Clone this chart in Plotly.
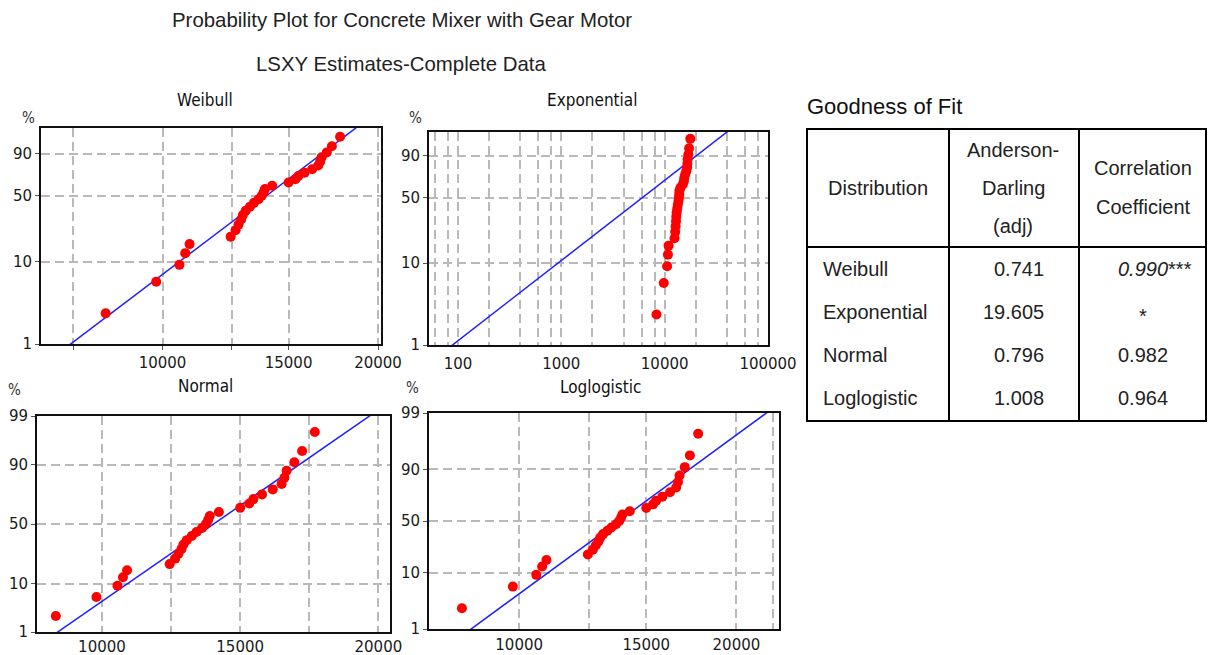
import math
from statistics import NormalDist
import numpy as np
import plotly.graph_objects as go

W, H = 1208, 655

# ---------------- data ----------------
failure_times = [8330, 9800, 10560, 10760, 10910, 12450, 12650, 12770, 12880, 12950,
                 13070, 13250, 13420, 13620, 13760, 13840, 13900, 14230, 15000, 15330,
                 15480, 15790, 16180, 16500, 16600, 16680, 16960, 17240, 17700]

weibull_beta, weibull_eta = 6.725, 14750.0
expo_theta = 8800.0
normal_mu, normal_sigma = 14040.0, 2424.0
loglog_mu, loglog_sigma = 9.528, 0.1025

pct_ticks_4 = [1, 10, 50, 90]
pct_ticks_5 = [1, 10, 50, 90, 99]

table_title = "Goodness of Fit"
dist_names = ["Weibull", "Exponential", "Normal", "Loglogistic"]
ad_values = ["0.741", "19.605", "0.796", "1.008"]
cc_values = ["<i>0.990</i>***", "*", "0.982", "0.964"]

main_title = "Probability Plot for Concrete Mixer with Gear Motor"
sub_title = "LSXY Estimates-Complete Data"

# ---------------- helpers ----------------
ND = NormalDist()


def t_weib(p):
    return math.log(-math.log(1 - p))


def t_norm(p):
    return ND.inv_cdf(p)


def t_logit(p):
    return math.log(p / (1 - p))


def px(x):
    return x / W


def py(y):
    return 1 - y / H


n = len(failure_times)
median_ranks = [(i - 0.3) / (n + 0.4) for i in range(1, n + 1)]
line_p = np.linspace(0.002, 0.9995, 200)

fig = go.Figure()

TICKFONT = dict(family="DejaVu Sans", size=15, color="#1a1a1a")
TITLEFONT = dict(family="DejaVu Sans Condensed, DejaVu Sans", size=17, color="#111")
GRID = dict(showgrid=True, gridcolor="#b9b9b9", gridwidth=1.5, griddash="9px,5px",
            zeroline=False, showline=True, mirror=True, linecolor="#111", linewidth=2,
            ticks="outside", ticklen=4, tickwidth=1, tickcolor="#555", tickfont=TICKFONT,
            fixedrange=True, automargin=False)


def dom(x0, x1, y0, y1):
    return [px(x0), px(x1)], [py(y1), py(y0)]


panels = []

# Weibull
wb_line_x = [weibull_eta * (-math.log(1 - p)) ** (1 / weibull_beta) for p in line_p]
panels.append(dict(
    name="Weibull", box=(41, 381, 128, 344), tr=t_weib, ytop=1.567, pticks=pct_ticks_4,
    xtype="log", xr=[math.log10(6766), math.log10(20190)], xticklen=4, xtickcolor="#555",
    xvals=[7500, 10000, 12500, 15000, 20000], xtext=["", "10000", "", "15000", "20000"],
    lx=wb_line_x, title_xy=(205, 100), pct_xy=(28, 118)))

# Exponential
ex_vals, ex_text = [], []
for d in range(1, 6):
    for k in (1, 2, 4, 6, 8):
        v = k * 10 ** d
        if 52 <= v <= 100000:
            ex_vals.append(v)
            ex_text.append(str(v) if k == 1 and d >= 2 else "")
ex_line_x = [-expo_theta * math.log(1 - p) for p in line_p]
panels.append(dict(
    name="Exponential", box=(429, 768, 132, 345), tr=t_weib, ytop=1.515, pticks=pct_ticks_4,
    xtype="log", xr=[1.7194, 5.0], xvals=ex_vals, xtext=ex_text, xticklen=4,
    xtickcolor="rgba(0,0,0,0)",
    lx=ex_line_x, title_xy=(592, 100), pct_xy=(415, 118)))

# Normal
no_line_x = [normal_mu + normal_sigma * ND.inv_cdf(p) for p in line_p]
panels.append(dict(
    name="Normal", box=(37, 390, 416, 632), tr=t_norm, ytop=None, pticks=pct_ticks_5,
    xtype="linear", xr=[7650, 20420], xticklen=0, xtickcolor="#555",
    xvals=[10000, 12500, 15000, 17500, 20000], xtext=["10000", "", "15000", "", "20000"],
    lx=no_line_x, title_xy=(205, 386), pct_xy=(15, 390)))

# Loglogistic
ll_line_x = [math.exp(loglog_mu + loglog_sigma * t_logit(p)) for p in line_p]
panels.append(dict(
    name="Loglogistic", box=(429, 779, 413, 629), tr=t_logit, ytop=None, pticks=pct_ticks_5,
    xtype="log", xr=[math.log10(7500), 4.36], xticklen=1, xtickcolor="rgba(0,0,0,0)",
    xvals=[10000, 12500, 15000, 20000, 22500], xtext=["10000", "", "15000", "20000", ""],
    lx=ll_line_x, title_xy=(600, 387), pct_xy=(412, 388)))

annotations = []
layout_axes = {}
for k, pnl in enumerate(panels, start=1):
    xa = "x" if k == 1 else f"x{k}"
    ya = "y" if k == 1 else f"y{k}"
    x0, x1, y0, y1 = pnl["box"]
    dx, dy = dom(x0, x1, y0, y1)
    tr = pnl["tr"]
    ybot = tr(0.01)
    ytop = pnl["ytop"] if pnl["ytop"] is not None else tr(0.99)
    layout_axes["xaxis" if k == 1 else f"xaxis{k}"] = dict(
        GRID, domain=dx, anchor=ya, type=pnl["xtype"], range=pnl["xr"],
        ticklen=pnl["xticklen"], tickcolor=pnl["xtickcolor"],
        tickmode="array", tickvals=pnl["xvals"], ticktext=pnl["xtext"])
    layout_axes["yaxis" if k == 1 else f"yaxis{k}"] = dict(
        GRID, domain=dy, anchor=xa, range=[ybot, ytop],
        tickmode="array", tickvals=[tr(p / 100) for p in pnl["pticks"]],
        ticktext=[str(p) for p in pnl["pticks"]])

    fig.add_trace(go.Scatter(x=pnl["lx"], y=[tr(p) for p in line_p], mode="lines",
                             line=dict(color="#1f1fff", width=1.5), xaxis=xa, yaxis=ya,
                             showlegend=False, hoverinfo="skip"))
    fig.add_trace(go.Scatter(x=failure_times, y=[tr(p) for p in median_ranks], mode="markers",
                             marker=dict(color="#ff0000", size=10, line=dict(width=0)),
                             xaxis=xa, yaxis=ya, showlegend=False, cliponaxis=False))

    annotations.append(dict(text=pnl["name"], x=px(pnl["title_xy"][0]), y=py(pnl["title_xy"][1]),
                            xref="paper", yref="paper", showarrow=False,
                            xanchor="center", yanchor="middle", font=TITLEFONT))
    annotations.append(dict(text="%", x=px(pnl["pct_xy"][0]), y=py(pnl["pct_xy"][1]),
                            xref="paper", yref="paper", showarrow=False,
                            xanchor="center", yanchor="middle",
                            font=dict(family="DejaVu Sans Condensed, DejaVu Sans", size=15,
                                      color="#333")))

# main titles
TF = dict(family="Liberation Sans", size=20.4, color="#222")
annotations.append(dict(text=main_title, x=px(402), y=py(20), xref="paper", yref="paper",
                        showarrow=False, xanchor="center", yanchor="middle", font=TF))
annotations.append(dict(text=sub_title, x=px(401), y=py(64), xref="paper", yref="paper",
                        showarrow=False, xanchor="center", yanchor="middle", font=TF))

# ---------------- table ----------------
BF = dict(family="Liberation Sans", size=20, color="#222")
annotations.append(dict(text=table_title, x=px(805), y=py(107), xref="paper", yref="paper",
                        showarrow=False, xanchor="left", yanchor="middle",
                        font=dict(family="Liberation Sans", size=22, color="#111")))
header = [("Distribution", 878, 188), ("Anderson-", 1013, 150), ("Darling", 1013, 188),
          ("(adj)", 1013, 226), ("Correlation", 1143, 168), ("Coefficient", 1143, 207)]
for txt, x, y in header:
    annotations.append(dict(text=txt, x=px(x), y=py(y), xref="paper", yref="paper",
                            showarrow=False, xanchor="center", yanchor="middle", font=BF))
row_y = [269, 312, 355, 398]
for i, ry in enumerate(row_y):
    annotations.append(dict(text=dist_names[i], x=px(821), y=py(ry), xref="paper", yref="paper",
                            showarrow=False, xanchor="left", yanchor="middle", font=BF))
    annotations.append(dict(text=ad_values[i], x=px(1046), y=py(ry), xref="paper", yref="paper",
                            showarrow=False, xanchor="right", yanchor="middle", font=BF))
    if i == 0:
        annotations.append(dict(text=cc_values[i], x=px(1194), y=py(ry), xref="paper",
                                yref="paper", showarrow=False, xanchor="right",
                                yanchor="middle", font=BF))
    else:
        annotations.append(dict(text=cc_values[i], x=px(1143), y=py(ry + (4 if cc_values[i] == "*" else 0)),
                                xref="paper", yref="paper", showarrow=False,
                                xanchor="center", yanchor="middle", font=BF))

shapes = []
LN = dict(color="#000", width=2)
shapes.append(dict(type="rect", xref="paper", yref="paper", x0=px(807), x1=px(1206),
                   y0=py(421), y1=py(129), line=LN))
for vx in (949, 1079):
    shapes.append(dict(type="line", xref="paper", yref="paper", x0=px(vx), x1=px(vx),
                       y0=py(421), y1=py(129), line=LN))
shapes.append(dict(type="line", xref="paper", yref="paper", x0=px(807), x1=px(1206),
                   y0=py(247), y1=py(247), line=LN))

fig.update_layout(width=W, height=H, autosize=False, margin=dict(l=0, r=0, t=0, b=0, pad=0),
                  paper_bgcolor="white", plot_bgcolor="white", showlegend=False,
                  annotations=annotations, shapes=shapes, **layout_axes)

fig.write_html("out.html")
